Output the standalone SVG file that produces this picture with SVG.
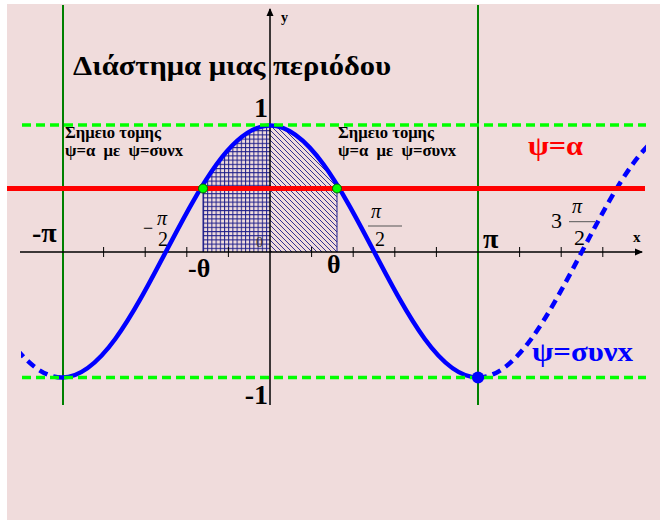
<svg xmlns="http://www.w3.org/2000/svg" width="667" height="520" viewBox="0 0 667 520">
<defs>
<style>
.bold{font-family:"Liberation Serif","DejaVu Serif",serif;font-weight:bold;}
.reg{font-family:"Liberation Serif","DejaVu Serif",serif;}
.it{font-family:"Liberation Serif","DejaVu Serif",serif;font-style:italic;}
.gv{stroke:#008000;stroke-width:2;}
.gd{stroke:#00FF00;stroke-width:3.5;stroke-dasharray:9 5;fill:none;}
.tick{stroke:#000;stroke-width:1;}
.curve{stroke:#0000FF;stroke-width:4.5;fill:none;stroke-linejoin:round;}
.dash{stroke-dasharray:9 6;}
</style>
<pattern id="grid" patternUnits="userSpaceOnUse" width="4.2" height="4.2" x="203" y="0">
<path d="M0,0.5 H4.2 M0.5,0 V4.2" stroke="#1e1e8a" stroke-width="1" fill="none"/>
</pattern>
<pattern id="diag" patternUnits="userSpaceOnUse" width="5" height="5">
<path d="M-1,-1 L6,6 M-1,4 L1,6 M4,-1 L6,1" stroke="#1e1e8a" stroke-width="0.9" fill="none"/>
</pattern>
<clipPath id="under">
<path d="M166,252 C199.92,186.95 232.36,125.5 270,125.5 C307.64,125.5 340.08,186.95 374,252 Z"/>
</clipPath>
<clipPath id="plot">
<rect x="21" y="0" width="625" height="405"/>
</clipPath>
<clipPath id="bottom">
<rect x="0" y="0" width="667" height="405"/>
</clipPath>
<marker id="arr" markerWidth="8" markerHeight="8" refX="7" refY="4" orient="auto" markerUnits="userSpaceOnUse">
<path d="M0,0.5 L8,4 L0,7.5 Z" fill="#000"/>
</marker>
</defs>

<rect x="7" y="4" width="653" height="516" fill="#F0DCDC"/>

<g id="verticals">
<line class="gv" x1="63" y1="5" x2="63" y2="405"/>
<line class="gv" x1="478" y1="5" x2="478" y2="405"/>
</g>

<g id="hatch">
<g clip-path="url(#under)">
<rect x="203" y="120" width="67" height="132" fill="url(#grid)"/>
<rect x="270" y="120" width="67" height="132" fill="url(#diag)"/>
</g>
<line x1="203" y1="188" x2="203" y2="252" stroke="#1e1e8a" stroke-width="1"/>
<line x1="337" y1="188" x2="337" y2="252" stroke="#1e1e8a" stroke-width="1"/>
</g>

<g id="axes">
<line x1="20" y1="252" x2="642" y2="252" stroke="#000" stroke-width="1.5" marker-end="url(#arr)"/>
<line x1="270" y1="405" x2="270" y2="9" stroke="#000" stroke-width="1.5" marker-end="url(#arr)"/>
<g class="tick">
<line x1="103.6" y1="247" x2="103.6" y2="257"/>
<line x1="145.2" y1="247" x2="145.2" y2="257"/>
<line x1="186.8" y1="247" x2="186.8" y2="257"/>
<line x1="228.4" y1="247" x2="228.4" y2="257"/>
<line x1="311.6" y1="247" x2="311.6" y2="257"/>
<line x1="353.2" y1="247" x2="353.2" y2="257"/>
<line x1="394.8" y1="247" x2="394.8" y2="257"/>
<line x1="436.4" y1="247" x2="436.4" y2="257"/>
<line x1="519.6" y1="247" x2="519.6" y2="257"/>
<line x1="561.2" y1="247" x2="561.2" y2="257"/>
<line x1="602.8" y1="247" x2="602.8" y2="257"/>
</g>
</g>

<g id="cosine">
<path class="curve" d="M62,377.5 C99.64,377.5 132.08,316.05 166,251.5 C199.92,186.95 232.36,125.5 270,125.5 C307.64,125.5 340.08,186.95 374,251.5 C407.92,316.05 440.36,377.5 478,377.5"/>
<g clip-path="url(#plot)">
<path class="curve dash" d="M62,377.5 C24.36,377.5 -8.08,316.05 -42,251.5"/>
<path class="curve dash" d="M478,377.5 C515.64,377.5 548.08,316.05 582,251.5 C615.92,186.95 648.36,125.5 686,125.5"/>
</g>
</g>

<line id="red-line" x1="7" y1="188.5" x2="645" y2="188.5" stroke="#FF0000" stroke-width="5"/>

<g id="bounds">
<line class="gd" x1="22" y1="125" x2="646" y2="125"/>
<line class="gd" x1="22" y1="377.5" x2="646" y2="377.5"/>
</g>

<g id="points">
<circle cx="203" cy="188.5" r="4.5" fill="#00FF00" stroke="#006000" stroke-width="1"/>
<circle cx="337" cy="188.5" r="4.5" fill="#00FF00" stroke="#006000" stroke-width="1"/>
<circle cx="478" cy="377.5" r="6" fill="#0000FF"/>
</g>

<g id="labels">
<text class="bold" x="73" y="75" font-size="28" textLength="318" lengthAdjust="spacingAndGlyphs">Διάστημα μιας περιόδου</text>
<text class="bold" x="281" y="22" font-size="14">y</text>
<text class="bold" x="633" y="242" font-size="15">x</text>
<text class="bold" x="268" y="117" font-size="28" text-anchor="end">1</text>
<text class="bold" x="268" y="404" font-size="28" text-anchor="end" clip-path="url(#bottom)">-1</text>
<text class="bold" x="65" y="138" font-size="16" textLength="96" lengthAdjust="spacingAndGlyphs">Σημειο τομης</text>
<text class="bold" x="65" y="156" font-size="16" xml:space="preserve" textLength="118" lengthAdjust="spacingAndGlyphs">ψ=α  με  ψ=συνx</text>
<text class="bold" x="338" y="138" font-size="16" textLength="96" lengthAdjust="spacingAndGlyphs">Σημειο τομης</text>
<text class="bold" x="338" y="156" font-size="16" xml:space="preserve" textLength="118" lengthAdjust="spacingAndGlyphs">ψ=α  με  ψ=συνx</text>
<text class="bold" x="528" y="155" font-size="28" fill="#FF0000" textLength="55" lengthAdjust="spacingAndGlyphs">ψ=α</text>
<text class="bold" x="532" y="361" font-size="28" fill="#0000FF" textLength="101" lengthAdjust="spacingAndGlyphs">ψ=συνx</text>
<text class="bold" x="32" y="242" font-size="28">-π</text>
<text class="bold" x="483" y="248" font-size="28">π</text>
<text class="bold" x="188" y="277" font-size="26">-θ</text>
<text class="bold" x="327" y="273" font-size="26">θ</text>
<text class="reg" x="256" y="247" font-size="14" fill="#333">0</text>
<text class="reg" x="143" y="234" font-size="18">−</text>
<text class="it" x="157" y="225" font-size="20">π</text>
<text class="reg" x="158" y="246" font-size="20">2</text>
<text class="it" x="371" y="218" font-size="20">π</text>
<line x1="368" y1="226" x2="402" y2="226" stroke="#555" stroke-width="1"/>
<text class="reg" x="375" y="246" font-size="20">2</text>
<text class="reg" x="551" y="228" font-size="22">3</text>
<text class="it" x="572" y="213" font-size="20">π</text>
<line x1="569" y1="221.7" x2="595" y2="221.7" stroke="#555" stroke-width="1"/>
<text class="reg" x="574" y="245" font-size="22">2</text>
</g>
</svg>
